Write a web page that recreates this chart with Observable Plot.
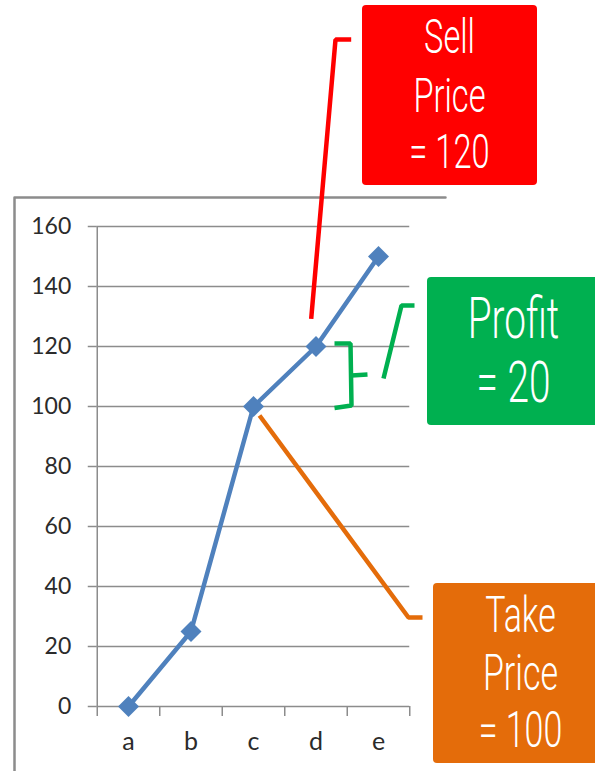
<!DOCTYPE html>
<html>
<head>
<meta charset="utf-8">
<script src="https://cdn.jsdelivr.net/npm/d3@7"></script>
<script src="https://cdn.jsdelivr.net/npm/@observablehq/plot@0.6"></script>
<style>
  html, body { margin: 0; padding: 0; background: #fff; }
  #chart { width: 595px; height: 771px; overflow: hidden; }
</style>
</head>
<body>
<div id="chart"></div>
<script>
// ---- chart data ----
const categories = ["a", "b", "c", "d", "e"];
const values = [0, 25, 100, 120, 150];
const yTicks = [0, 20, 40, 60, 80, 100, 120, 140, 160];
const xBoundaries = [-0.5, 0.5, 1.5, 2.5, 3.5, 4.5];

// ---- annotation data (in data units: x = category index, y = value) ----
const boxColors = ["#FF0000", "#00B050", "#E46C0A"];
const boxX1 = [3.744, 4.784, 4.88];
const boxX2 = [6.544, 7.6, 7.6];
const boxY1 = [173.67, 93.67, -19];
const boxY2 = [233.67, 143, 41];

const textLines = ["Sell", "Price", "= 120", "Profit", "= 20", "Take", "Price", "= 100"];
const textX = [5.136, 5.136, 5.136, 6.16, 6.16, 6.272, 6.272, 6.272];
const textY = [222.8, 203.4, 184.5, 129, 107.7, 30.3, 10.9, -8];
const textSize = [48, 48, 48, 57, 57, 50, 50, 50];

const leaderGroup = ["red", "red", "red",
  "brace", "brace", "brace", "brace",
  "nib", "nib",
  "green", "green", "green",
  "orange", "orange", "orange"];
const leaderColor = ["#FF0000", "#FF0000", "#FF0000",
  "#00B050", "#00B050", "#00B050", "#00B050",
  "#00B050", "#00B050",
  "#00B050", "#00B050", "#00B050",
  "#E46C0A", "#E46C0A", "#E46C0A"];
const leaderX = [2.923, 3.312, 3.563,
  3.296, 3.552, 3.568, 3.296,
  3.568, 3.824,
  4.08, 4.368, 4.576,
  2.096, 4.48, 4.704];
const leaderY = [129.2, 222.3, 222.3,
  121, 121, 100.3, 99.5,
  110.33, 110.67,
  109.33, 133.67, 133.67,
  97, 29.67, 29.67];

const frameX = [-1.824, -1.824, 5.072];
const frameY = [-25, 169.67, 169.67];

// ---- build tables ----
const points = values.map((v, i) => ({i, v}));
const boxes = boxColors.map((c, k) => ({c, x1: boxX1[k], x2: boxX2[k], y1: boxY1[k], y2: boxY2[k]}));
const texts = textLines.map((t, k) => ({t, x: textX[k], y: textY[k], s: textSize[k]}));
const leaders = leaderX.map((x, k) => ({x, y: leaderY[k], g: leaderGroup[k], c: leaderColor[k]}));
const frame = frameX.map((x, k) => ({x, y: frameY[k]}));

const diamond = {
  draw(ctx, size) {
    const h = Math.sqrt(size / Math.PI);
    ctx.moveTo(0, -h); ctx.lineTo(h, 0); ctx.lineTo(0, h); ctx.lineTo(-h, 0); ctx.closePath();
  }
};

const gray = "#8c8c8c";
const axisFont = "Lato, 'Open Sans', 'Liberation Sans', sans-serif";
const annFont = "Roboto, 'DejaVu Sans', sans-serif";

const svg = Plot.plot({
  width: 595,
  height: 771,
  marginLeft: 96.75,
  marginRight: 185.75,
  marginTop: 226,
  marginBottom: 65,
  style: {fontFamily: axisFont, background: "#fff", overflow: "visible"},
  x: {domain: [-0.5, 4.5], axis: null},
  y: {domain: [0, 160], axis: null},
  color: {type: "identity"},
  marks: [
    Plot.line(frame, {x: "x", y: "y", stroke: gray, strokeWidth: 2.5, clip: false}),
    Plot.gridY(yTicks, {stroke: gray, strokeOpacity: 1, strokeWidth: 1.5}),
    Plot.ruleX([-0.5], {y1: 0, y2: 160, stroke: gray, strokeWidth: 1.5}),
    Plot.axisY({ticks: yTicks, tickSize: 9, tickPadding: 17, fontSize: 23, stroke: gray, strokeWidth: 1.5, fill: "#2b2b2b", label: null}),
    Plot.axisX({ticks: xBoundaries, tickSize: 10, tickFormat: () => "", stroke: gray, strokeWidth: 1.5, label: null}),
    Plot.axisX({ticks: [0, 1, 2, 3, 4], tickSize: 0, tickPadding: 26, fontSize: 25, fill: "#2b2b2b", tickFormat: (i) => categories[i], label: null}),
    Plot.line(points, {x: "i", y: "v", stroke: "#4F81BD", strokeWidth: 4.5}),
    Plot.dot(points, {x: "i", y: "v", symbol: diamond, r: 10.5, fill: "#4F81BD", stroke: null}),
    Plot.line(leaders, {x: "x", y: "y", z: "g", stroke: "c", strokeWidth: 4.5, strokeLinejoin: "miter", strokeLinecap: "butt"}),
    Plot.rect(boxes, {x1: "x1", x2: "x2", y1: "y1", y2: "y2", fill: "c", rx: 4}),
    Plot.text(texts, {x: "x", y: "y", text: "t", fontSize: "s", fontWeight: 300, fill: "white", fontFamily: annFont, lineAnchor: "middle", className: "ann-text"})
  ]
});

// condense annotation lettering (mimics a narrow display face)
svg.querySelectorAll(".ann-text text").forEach((t) => {
  let tr = t.getAttribute("transform");
  if (!tr) {
    const x = t.getAttribute("x") || 0, y = t.getAttribute("y") || 0;
    t.removeAttribute("x"); t.removeAttribute("y");
    tr = `translate(${x},${y})`;
  }
  t.setAttribute("transform", tr + " scale(0.68,1)");
});

document.getElementById("chart").appendChild(svg);
</script>
</body>
</html>
